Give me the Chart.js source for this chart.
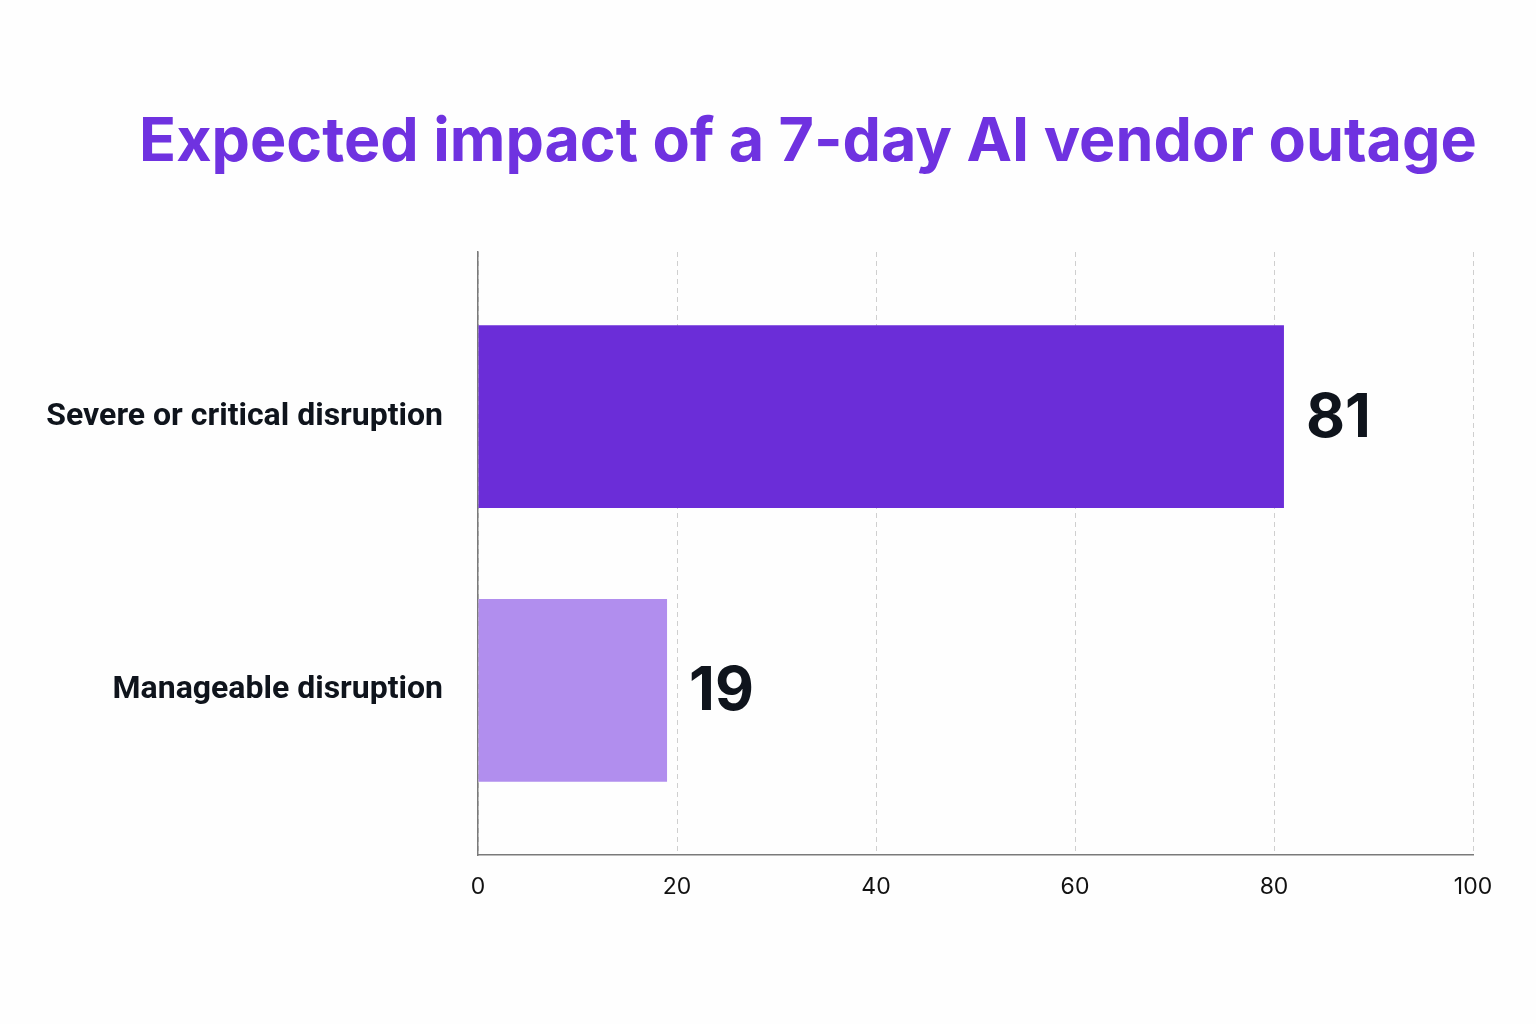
<!DOCTYPE html>
<html>
<head>
<meta charset="utf-8">
<script src="https://cdn.jsdelivr.net/npm/chart.js@4.4.1/dist/chart.umd.min.js"></script>
<style>
  html, body { margin: 0; padding: 0; background: #fefefe; }
  #wrap { width: 1536px; height: 1024px; }
</style>
</head>
<body>
<div id="wrap"><canvas id="impactCanvas" width="1536" height="1024"></canvas></div>
<script>
var titleText = "Expected impact of a 7-day AI vendor outage";
var categories = ["Severe or critical disruption", "Manageable disruption"];
var shares = [81, 19];
var barColors = ["#6b2dd8", "#b18eee"];
var xTicks = [0, 20, 40, 60, 80, 100];

// title sits a bit right of the canvas centre, so it is drawn here
var chartTitle = {
    id: "chartTitle",
    afterDraw: function (chart) {
        var ctx = chart.ctx;
        ctx.save();
        ctx.font = "bold 61px Inter";
        ctx.fillStyle = "#6f32e0";
        ctx.textAlign = "center";
        ctx.textBaseline = "alphabetic";
        ctx.fillText(titleText, 808, 161);
        ctx.restore();
    }
};

// value labels at the end of each bar
var valueLabels = {
    id: "valueLabels",
    afterDatasetsDraw: function (chart) {
        var ctx = chart.ctx;
        var meta = chart.getDatasetMeta(0);
        ctx.save();
        ctx.font = "bold 60px Inter";
        ctx.fillStyle = "#0f141c";
        ctx.textAlign = "left";
        ctx.textBaseline = "middle";
        meta.data.forEach(function (bar, i) {
            ctx.fillText(String(shares[i]), bar.x + 22, bar.y + 2);
        });
        ctx.restore();
    }
};

window.onload = function () {
    var ctx = document.getElementById("impactCanvas").getContext("2d");

    new Chart(ctx, {
        type: "bar",
        data: {
            labels: categories,
            datasets: [
                {
                    data: shares.map(function (v, i) { return { x: v, y: i }; }),
                    backgroundColor: barColors,
                    borderWidth: 0,
                    barPercentage: 0.668,
                    categoryPercentage: 1
                }
            ]
        },
        options: {
            indexAxis: "y",
            responsive: false,
            animation: false,
            layout: {
                padding: { left: 20, right: 63, top: 252, bottom: 109 }
            },
            plugins: {
                legend: { display: false },
                tooltip: { enabled: false },
                title: { display: false }
            },
            scales: {
                x: {
                    type: "linear",
                    min: 0,
                    max: 100,
                    afterBuildTicks: function (axis) {
                        axis.ticks = xTicks.map(function (v) { return { value: v }; });
                    },
                    afterFit: function (axis) { axis.height = 60; },
                    grid: {
                        color: "#cfcfcf",
                        lineWidth: 1,
                        drawTicks: false
                    },
                    border: { color: "#7a7a7a", width: 1.5, dash: [5, 4] },
                    ticks: {
                        color: "#111111",
                        padding: 18,
                        font: { family: "Inter", size: 23 }
                    }
                },
                y: {
                    type: "linear",
                    reverse: true,
                    offset: false,
                    min: -0.602,
                    max: 1.602,
                    afterBuildTicks: function (axis) {
                        axis.ticks = categories.map(function (c, i) { return { value: i }; });
                    },
                    afterFit: function (axis) { axis.width = 458; },
                    grid: { display: false, offset: false },
                    border: { color: "#7a7a7a", width: 1.5 },
                    ticks: {
                        color: "#0f141c",
                        padding: 27,
                        font: { family: "Roboto", size: 32, weight: "bold" },
                        callback: function (value) { return categories[value]; }
                    }
                }
            }
        },
        plugins: [valueLabels, chartTitle]
    });
};
</script>
</body>
</html>
